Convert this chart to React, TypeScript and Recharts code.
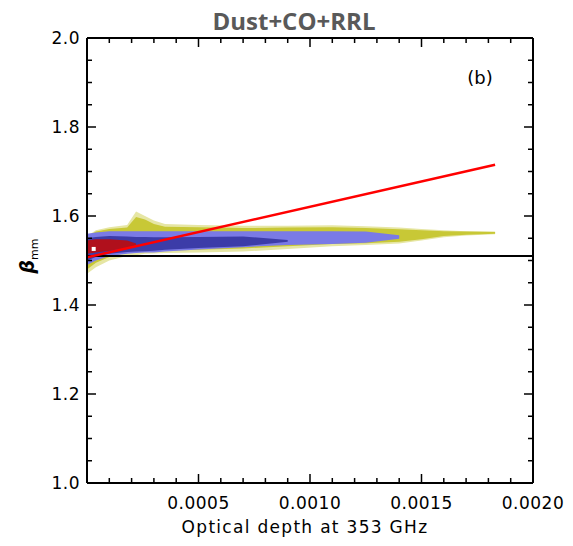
import { ComposedChart, Area, Line, Scatter, XAxis, YAxis, ReferenceLine } from "recharts";

// optical depth grid (x) and beta ranges of the density bands
const depth = [0, 0.00004, 0.0001, 0.00018, 0.00022, 0.00026, 0.0003, 0.00035, 0.0005, 0.0007, 0.0009, 0.0011, 0.00125, 0.0014, 0.0015, 0.0016, 0.0017, 0.00183];
const paleLow = [1.47, 1.485, 1.5, 1.51, 1.512, 1.515, 1.516, 1.517, 1.518, 1.52, 1.526, 1.532, 1.535, 1.538, 1.545, 1.552, 1.556, 1.559];
const paleHigh = [1.555, 1.568, 1.575, 1.58, 1.61, 1.6, 1.59, 1.582, 1.58, 1.578, 1.578, 1.579, 1.577, 1.574, 1.571, 1.568, 1.566, 1.565];
const yellowLow = [1.48, 1.495, 1.508, 1.518, 1.52, 1.522, 1.522, 1.522, 1.524, 1.527, 1.532, 1.537, 1.539, 1.542, 1.548, 1.555, 1.558, 1.56];
const yellowHigh = [1.552, 1.565, 1.571, 1.574, 1.598, 1.592, 1.582, 1.576, 1.575, 1.573, 1.574, 1.575, 1.573, 1.57, 1.568, 1.566, 1.565, 1.564];
const blueLow = [1.49, 1.5, 1.51, 1.515, 1.517, 1.518, 1.518, 1.52, 1.525, 1.53, 1.535, 1.537, 1.54, 1.549, null, null, null, null];
const blueHigh = [1.56, 1.563, 1.566, 1.566, 1.566, 1.566, 1.566, 1.566, 1.566, 1.566, 1.566, 1.566, 1.565, 1.557, null, null, null, null];
const navyLow = [1.5, 1.508, 1.515, 1.519, 1.52, 1.521, 1.522, 1.524, 1.528, 1.532, 1.542, null, null, null, null, null, null, null];
const navyHigh = [1.55, 1.553, 1.555, 1.554, 1.553, 1.553, 1.552, 1.552, 1.553, 1.554, 1.546, null, null, null, null, null, null, null];
const redLow = [1.515, 1.518, 1.522, 1.528, 1.534, null, null, null, null, null, null, null, null, null, null, null, null, null];
const redHigh = [1.545, 1.548, 1.548, 1.545, 1.538, null, null, null, null, null, null, null, null, null, null, null, null, null];

// linear fit (red) and constant beta (black)
const fitDepth = [0, 0.00183];
const fitBeta = [1.507, 1.715];
const constBeta = 1.51;
const peak = [{ x: 0.00003, y: 1.526 }];

const xTicks = [0, 0.0001, 0.0002, 0.0003, 0.0004, 0.0005, 0.0006, 0.0007, 0.0008, 0.0009, 0.001, 0.0011, 0.0012, 0.0013, 0.0014, 0.0015, 0.0016, 0.0017, 0.0018, 0.0019, 0.002];
const xMajor = [0, 0.0005, 0.001, 0.0015, 0.002];
const yTicks = [1.0, 1.05, 1.1, 1.15, 1.2, 1.25, 1.3, 1.35, 1.4, 1.45, 1.5, 1.55, 1.6, 1.65, 1.7, 1.75, 1.8, 1.85, 1.9, 1.95, 2.0];
const yMajor = [1.0, 1.2, 1.4, 1.6, 1.8, 2.0];

const range = (lo: number | null, hi: number | null) => (lo == null || hi == null ? null : [lo, hi]);

const rows = depth.map((x, i) => ({
  x,
  pale: range(paleLow[i], paleHigh[i]),
  yellow: range(yellowLow[i], yellowHigh[i]),
  blue: range(blueLow[i], blueHigh[i]),
  navy: range(navyLow[i], navyHigh[i]),
  red: range(redLow[i], redHigh[i]),
  fit: fitDepth.indexOf(x) >= 0 ? fitBeta[fitDepth.indexOf(x)] : null,
}));

const font = "DejaVu Sans";

const BottomTick = ({ x, y, payload }: any) => {
  const major = xMajor.includes(payload.value);
  return (
    <g>
      <line x1={x} y1={y} x2={x} y2={y - (major ? 9 : 5)} stroke="#000" strokeWidth={1.5} />
      {major && payload.value !== 0 && (
        <text x={x} y={y + 26} textAnchor="middle" fontFamily={font} fontSize={17} letterSpacing={0.5} fill="#000">
          {payload.value.toFixed(4)}
        </text>
      )}
    </g>
  );
};

const TopTick = ({ x, y, payload }: any) => {
  const major = xMajor.includes(payload.value);
  return <line x1={x} y1={y} x2={x} y2={y + (major ? 9 : 5)} stroke="#000" strokeWidth={1.5} />;
};

const LeftTick = ({ x, y, payload }: any) => {
  const major = yMajor.includes(payload.value);
  return (
    <g>
      <line x1={x} y1={y} x2={x + (major ? 9 : 5)} y2={y} stroke="#000" strokeWidth={1.5} />
      {major && (
        <text x={x - 7} y={y + 6} textAnchor="end" fontFamily={font} fontSize={17} letterSpacing={0.5} fill="#000">
          {payload.value.toFixed(1)}
        </text>
      )}
    </g>
  );
};

const RightTick = ({ x, y, payload }: any) => {
  const major = yMajor.includes(payload.value);
  return <line x1={x} y1={y} x2={x - (major ? 9 : 5)} y2={y} stroke="#000" strokeWidth={1.5} />;
};

export default function App() {
  return (
    <div style={{ position: "absolute", left: 0, top: 0, width: 573, height: 546, background: "#fff" }}>
      <ComposedChart width={573} height={546} data={rows} margin={{ top: 37, right: 39, left: 0, bottom: 0 }}>
        <XAxis xAxisId="b" dataKey="x" type="number" domain={[0, 0.002]} ticks={xTicks} interval={0}
          tick={<BottomTick />} tickLine={false} tickSize={0} tickMargin={0} height={63}
          axisLine={{ stroke: "#000", strokeWidth: 2 }} allowDataOverflow />
        <XAxis xAxisId="t" orientation="top" dataKey="x" type="number" domain={[0, 0.002]} ticks={xTicks} interval={0}
          tick={<TopTick />} tickLine={false} tickSize={0} tickMargin={0} height={1}
          axisLine={{ stroke: "#000", strokeWidth: 2 }} allowDataOverflow />
        <YAxis yAxisId="l" type="number" domain={[1, 2]} ticks={yTicks} interval={0}
          tick={<LeftTick />} tickLine={false} tickSize={0} tickMargin={0} width={87}
          axisLine={{ stroke: "#000", strokeWidth: 2 }} allowDataOverflow />
        <YAxis yAxisId="r" orientation="right" type="number" domain={[1, 2]} ticks={yTicks} interval={0}
          tick={<RightTick />} tickLine={false} tickSize={0} tickMargin={0} width={1}
          axisLine={{ stroke: "#000", strokeWidth: 2 }} allowDataOverflow />

        <Area xAxisId="b" yAxisId="l" type="linear" dataKey="pale" stroke="none" fill="#e6e6a4" fillOpacity={1} isAnimationActive={false} />
        <Area xAxisId="b" yAxisId="l" type="linear" dataKey="yellow" stroke="none" fill="#c8c836" fillOpacity={1} isAnimationActive={false} />
        <Area xAxisId="b" yAxisId="l" type="linear" dataKey="blue" stroke="none" fill="#7a7ae6" fillOpacity={1} isAnimationActive={false} />
        <Area xAxisId="b" yAxisId="l" type="linear" dataKey="navy" stroke="none" fill="#3c3ca8" fillOpacity={1} isAnimationActive={false} />
        <Area xAxisId="b" yAxisId="l" type="linear" dataKey="red" stroke="none" fill="#b0101c" fillOpacity={1} isAnimationActive={false} />
        <Scatter xAxisId="t" yAxisId="r" data={peak} dataKey="y" fill="#fff" isAnimationActive={false}
          shape={(p: any) => <rect x={p.cx - 2} y={p.cy - 2} width={4} height={4} fill="#fff" />} />

        <ReferenceLine xAxisId="t" yAxisId="r" y={constBeta} stroke="#000" strokeWidth={2} />
        <Line xAxisId="b" yAxisId="l" type="linear" dataKey="fit" stroke="#ff0000" strokeWidth={2.5} dot={false} connectNulls isAnimationActive={false} />

        <text x={294} y={30} textAnchor="middle" fontFamily="Open Sans" fontWeight="bold" fontSize={24} fill="#595959">
          Dust+CO+RRL
        </text>
        <text x={480} y={84} textAnchor="middle" fontFamily={font} fontSize={18} fill="#000">(b)</text>
        <text x={305} y={533} textAnchor="middle" fontFamily={font} fontSize={17} letterSpacing={1.3} fill="#000">
          Optical depth at 353 GHz
        </text>
        <text transform="translate(34,256) rotate(-90)" textAnchor="middle" fontFamily={font} fill="#000">
          <tspan fontSize={19} fontStyle="italic" fontWeight="bold">β</tspan>
          <tspan fontSize={11} dy={4}>mm</tspan>
        </text>
      </ComposedChart>
    </div>
  );
}
